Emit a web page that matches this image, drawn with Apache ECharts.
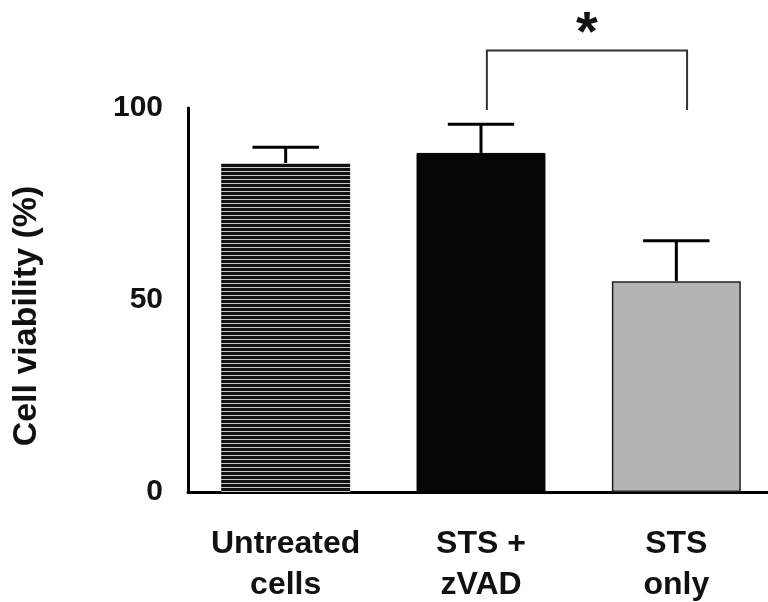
<!DOCTYPE html>
<html>
<head>
<meta charset="utf-8">
<script src="https://cdn.jsdelivr.net/npm/echarts@6/dist/echarts.min.js"></script>
<style>
  html, body { margin: 0; padding: 0; background: #fff; }
  #chart { width: 768px; height: 602px; }
</style>
</head>
<body>
<div id="chart"></div>
<script>
var categories = ['Untreated\ncells', 'STS +\nzVAD', 'STS\nonly'];
var viability = [85.7, 88.3, 54.9];
var errorTop = [89.8, 95.8, 65.4];
var yTicks = [0, 50, 100];
// significance bracket: between bar 1 and bar 2, legs from 99.5 to 115
var sigPair = [1, 2];
var sigRange = [99.5, 115];
var sigLabel = '*';

var myChart = echarts.init(document.getElementById('chart'));

// horizontal stripe pattern for the first bar
var stripe = document.createElement('canvas');
stripe.width = 4;
stripe.height = 4;
var ctx = stripe.getContext('2d');
ctx.fillStyle = '#111';
ctx.fillRect(0, 0, 4, 4);
ctx.fillStyle = '#c8c8c8';
ctx.fillRect(0, 3, 4, 1);

var barStyles = [
    { color: { image: stripe, repeat: 'repeat' } },
    { color: '#050505', borderColor: '#000', borderWidth: 1 },
    { color: '#b4b4b4', borderColor: '#222', borderWidth: 1.5 }
];

var option = {
    animation: false,
    grid: { left: 188, right: -6, top: 108, bottom: 110, outerBoundsMode: 'none' },
    xAxis: {
        type: 'category',
        data: categories,
        axisLine: { lineStyle: { color: '#000', width: 3 } },
        axisTick: { show: false },
        axisLabel: {
            margin: 32,
            color: '#111',
            fontFamily: 'Liberation Sans',
            fontWeight: 'bold',
            fontSize: 32,
            lineHeight: 41
        }
    },
    yAxis: {
        type: 'value',
        min: 0,
        max: 100,
        interval: 50,
        name: 'Cell viability (%)',
        nameLocation: 'middle',
        nameGap: 144,
        nameTextStyle: {
            color: '#111',
            fontFamily: 'Liberation Sans',
            fontWeight: 'bold',
            fontSize: 34,
            padding: [0, 32, 0, 0]
        },
        axisLine: { show: true, lineStyle: { color: '#000', width: 3 } },
        axisTick: { show: false },
        splitLine: { show: false },
        axisLabel: {
            margin: 25,
            color: '#111',
            fontFamily: 'Liberation Sans',
            fontWeight: 'bold',
            fontSize: 30,
            padding: [6, 0, 0, 0],
            formatter: function (v) { return yTicks.indexOf(v) >= 0 ? String(v) : ''; }
        }
    },
    series: [
        {
            type: 'bar',
            barCategoryGap: '34%',
            data: viability.map(function (v, i) {
                return { value: v, itemStyle: barStyles[i] };
            }),
            z: 2
        },
        {
            type: 'custom',
            z: 3,
            clip: false,
            data: viability.map(function (v, i) { return [i, v, errorTop[i]]; }),
            renderItem: function (params, api) {
                var base = api.coord([api.value(0), api.value(1)]);
                var top = api.coord([api.value(0), api.value(2)]);
                var half = api.size([1, 0])[0] * 0.17;
                var st = { stroke: '#000', lineWidth: 3 };
                return {
                    type: 'group',
                    children: [
                        { type: 'line', shape: { x1: base[0], y1: base[1], x2: top[0], y2: top[1] }, style: st },
                        { type: 'line', shape: { x1: top[0] - half, y1: top[1], x2: top[0] + half, y2: top[1] }, style: st }
                    ]
                };
            }
        },
        {
            type: 'custom',
            z: 3,
            clip: false,
            data: [[sigPair[0], sigPair[1], sigRange[0], sigRange[1]]],
            renderItem: function (params, api) {
                var band = api.size([1, 0])[0];
                var xa = api.coord([api.value(0), api.value(2)])[0] + band * 0.03;
                var xb = api.coord([api.value(1), api.value(2)])[0] + band * 0.055;
                var y0 = api.coord([api.value(0), api.value(2)])[1];
                var y1 = api.coord([api.value(0), api.value(3)])[1];
                return {
                    type: 'group',
                    children: [
                        {
                            type: 'polyline',
                            shape: { points: [[xa, y0], [xa, y1], [xb, y1], [xb, y0]] },
                            style: { stroke: '#333', lineWidth: 2, fill: null }
                        },
                        {
                            type: 'text',
                            style: {
                                text: sigLabel,
                                x: (xa + xb) / 2,
                                y: y1 - 16,
                                align: 'center',
                                verticalAlign: 'middle',
                                fill: '#111',
                                font: 'bold 56px "Liberation Sans"'
                            }
                        }
                    ]
                };
            }
        }
    ]
};

myChart.setOption(option);
</script>
</body>
</html>
